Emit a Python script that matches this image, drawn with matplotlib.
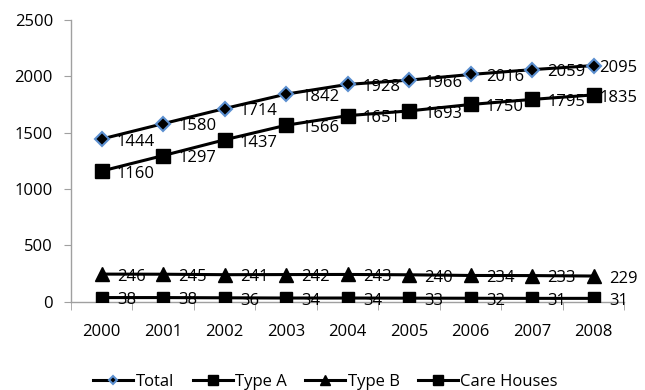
import matplotlib
matplotlib.use("Agg")
import matplotlib.pyplot as plt
from matplotlib.ticker import FixedLocator

plt.rcParams['font.family'] = ['Open Sans', 'DejaVu Sans']

years = ['2000', '2001', '2002', '2003', '2004', '2005', '2006', '2007', '2008']
total = [1444, 1580, 1714, 1842, 1928, 1966, 2016, 2059, 2095]
type_a = [1160, 1297, 1437, 1566, 1651, 1693, 1750, 1795, 1835]
type_b = [246, 245, 241, 242, 243, 240, 234, 233, 229]
care_houses = [38, 38, 36, 34, 34, 33, 32, 31, 31]
series_names = ['Total', 'Type A', 'Type B', 'Care Houses']

fig = plt.figure(figsize=(6.45, 3.9), dpi=100)
ax = fig.add_axes([0.110, 0.226, 0.858, 0.723])

x = list(range(len(years)))
styles = [
    dict(marker='D', markersize=7.5, markerfacecolor='black', markeredgecolor='#5b8fd0', markeredgewidth=1.5),
    dict(marker='s', markersize=10, markerfacecolor='black', markeredgecolor='black'),
    dict(marker='^', markersize=10, markerfacecolor='black', markeredgecolor='black'),
    dict(marker='s', markersize=9, markerfacecolor='black', markeredgecolor='black'),
]
legend_marker_sizes = [4.5, 7.5, 7.5, 7.5]
data = [total, type_a, type_b, care_houses]

handles = []
for vals, name, st in zip(data, series_names, styles):
    h, = ax.plot(x, vals, color='black', linewidth=2.2, label=name, zorder=3, **st)
    handles.append(h)
    for i, v in enumerate(vals):
        dx = 11
        if i == len(vals) - 1 and v >= 1000:
            dx = 4
        ax.annotate(str(v), (i, v), xytext=(dx, -2), textcoords='offset points',
                    ha='left', va='center', fontsize=12, color='black', zorder=4)

ax.set_xlim(-0.5, 8.5)
ax.set_ylim(0, 2500)
ax.set_yticks([0, 500, 1000, 1500, 2000, 2500])
ax.set_xticks(x)
ax.set_xticklabels(years)
ax.xaxis.set_minor_locator(FixedLocator([i - 0.5 for i in range(len(years) + 1)]))

for s in ['top', 'right']:
    ax.spines[s].set_visible(False)
for s in ['left', 'bottom']:
    ax.spines[s].set_color('#a0a0a0')
    ax.spines[s].set_linewidth(1.0)

ax.tick_params(axis='y', which='major', length=5, color='#a0a0a0', labelsize=12, pad=8)
ax.tick_params(axis='x', which='major', length=0, labelsize=12, pad=16)
ax.tick_params(axis='x', which='minor', length=6, color='#a0a0a0', direction='out')

leg = fig.legend(handles=handles, labels=series_names, loc='center', bbox_to_anchor=(0.505, 0.02),
                 ncol=4, frameon=False, fontsize=12, handlelength=2.4, handletextpad=0.15,
                 columnspacing=1.1)
for lh, ms in zip(leg.legend_handles, legend_marker_sizes):
    lh.set_markersize(ms)

fig.savefig('out.png', dpi=100)
